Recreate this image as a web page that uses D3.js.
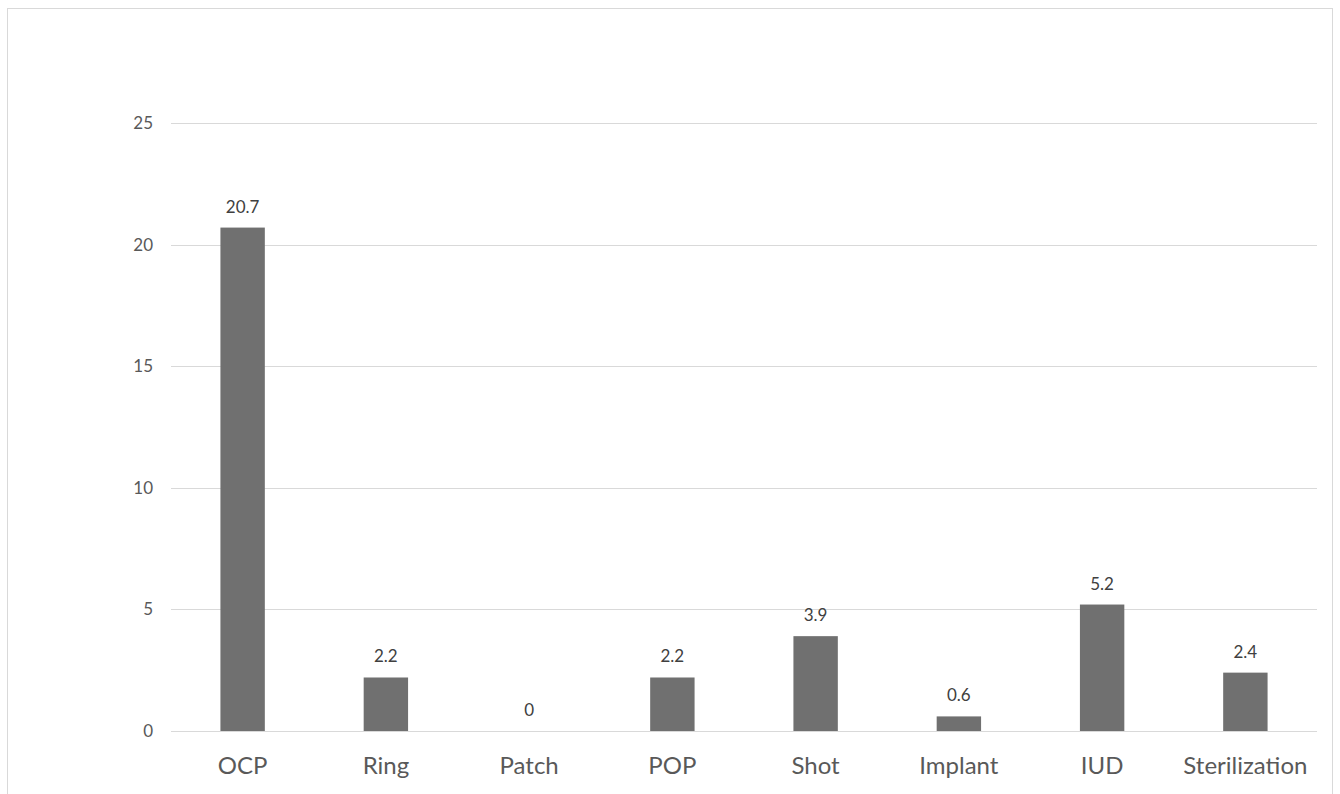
<!DOCTYPE html>
<html><head><meta charset="utf-8">
<script src="https://cdn.jsdelivr.net/npm/d3@7"></script>
<style>
html,body{margin:0;padding:0;background:#fff;}
svg{display:block;}
</style></head>
<body>
<svg id="chart" width="1340" height="794"></svg>
<script>
const categories = ["OCP","Ring","Patch","POP","Shot","Implant","IUD","Sterilization"];
const values = [20.7, 2.2, 0, 2.2, 3.9, 0.6, 5.2, 2.4];
const yTicks = [0, 5, 10, 15, 20, 25];

const svg = d3.select("#chart");
const font = "Lato, 'Open Sans', sans-serif";
const plotLeft = 171, plotRight = 1317, plotTop = 123, plotBottom = 731;

// outer frame
svg.append("rect").attr("x",7.5).attr("y",8.5).attr("width",1325).attr("height",800)
  .attr("fill","#fff").attr("stroke","#d9d9d9").attr("stroke-width",1);

const x = d3.scaleBand().domain(categories).range([plotLeft, plotRight]).paddingInner(0.69).paddingOuter(0.345);
const y = d3.scaleLinear().domain([0, 25]).range([plotBottom, plotTop]);

// gridlines
svg.append("g").selectAll("line").data(yTicks).join("line")
  .attr("x1", plotLeft).attr("x2", plotRight)
  .attr("y1", d => Math.round(y(d)) + 0.5).attr("y2", d => Math.round(y(d)) + 0.5)
  .attr("stroke", "#d9d9d9").attr("stroke-width", 1);

// y axis labels
const yAxis = d3.axisLeft(y).tickValues(yTicks).tickSize(0).tickPadding(18);
const gy = svg.append("g").attr("transform", `translate(${plotLeft},0)`).call(yAxis);
gy.select(".domain").remove();
gy.selectAll("text").attr("fill","#595959").style("font-family", font).style("font-size","17px");

// bars
svg.append("g").selectAll("rect").data(categories).join("rect")
  .attr("x", d => x(d)).attr("width", x.bandwidth())
  .attr("y", (d,i) => y(values[i])).attr("height", (d,i) => y(0) - y(values[i]))
  .attr("fill", "#707070");

// data labels
svg.append("g").selectAll("text").data(categories).join("text")
  .attr("x", d => x(d) + x.bandwidth()/2)
  .attr("y", (d,i) => y(values[i]) - 15)
  .attr("text-anchor","middle")
  .attr("fill","#404040").style("font-family", font).style("font-size","17px")
  .text((d,i) => values[i]);

// x axis labels
const xAxis = d3.axisBottom(x).tickSize(0).tickPadding(26);
const gx = svg.append("g").attr("transform", `translate(0,${plotBottom})`).call(xAxis);
gx.select(".domain").remove();
gx.selectAll("text").attr("fill","#595959").style("font-family", font).style("font-size","24px");
</script>
</body></html>
